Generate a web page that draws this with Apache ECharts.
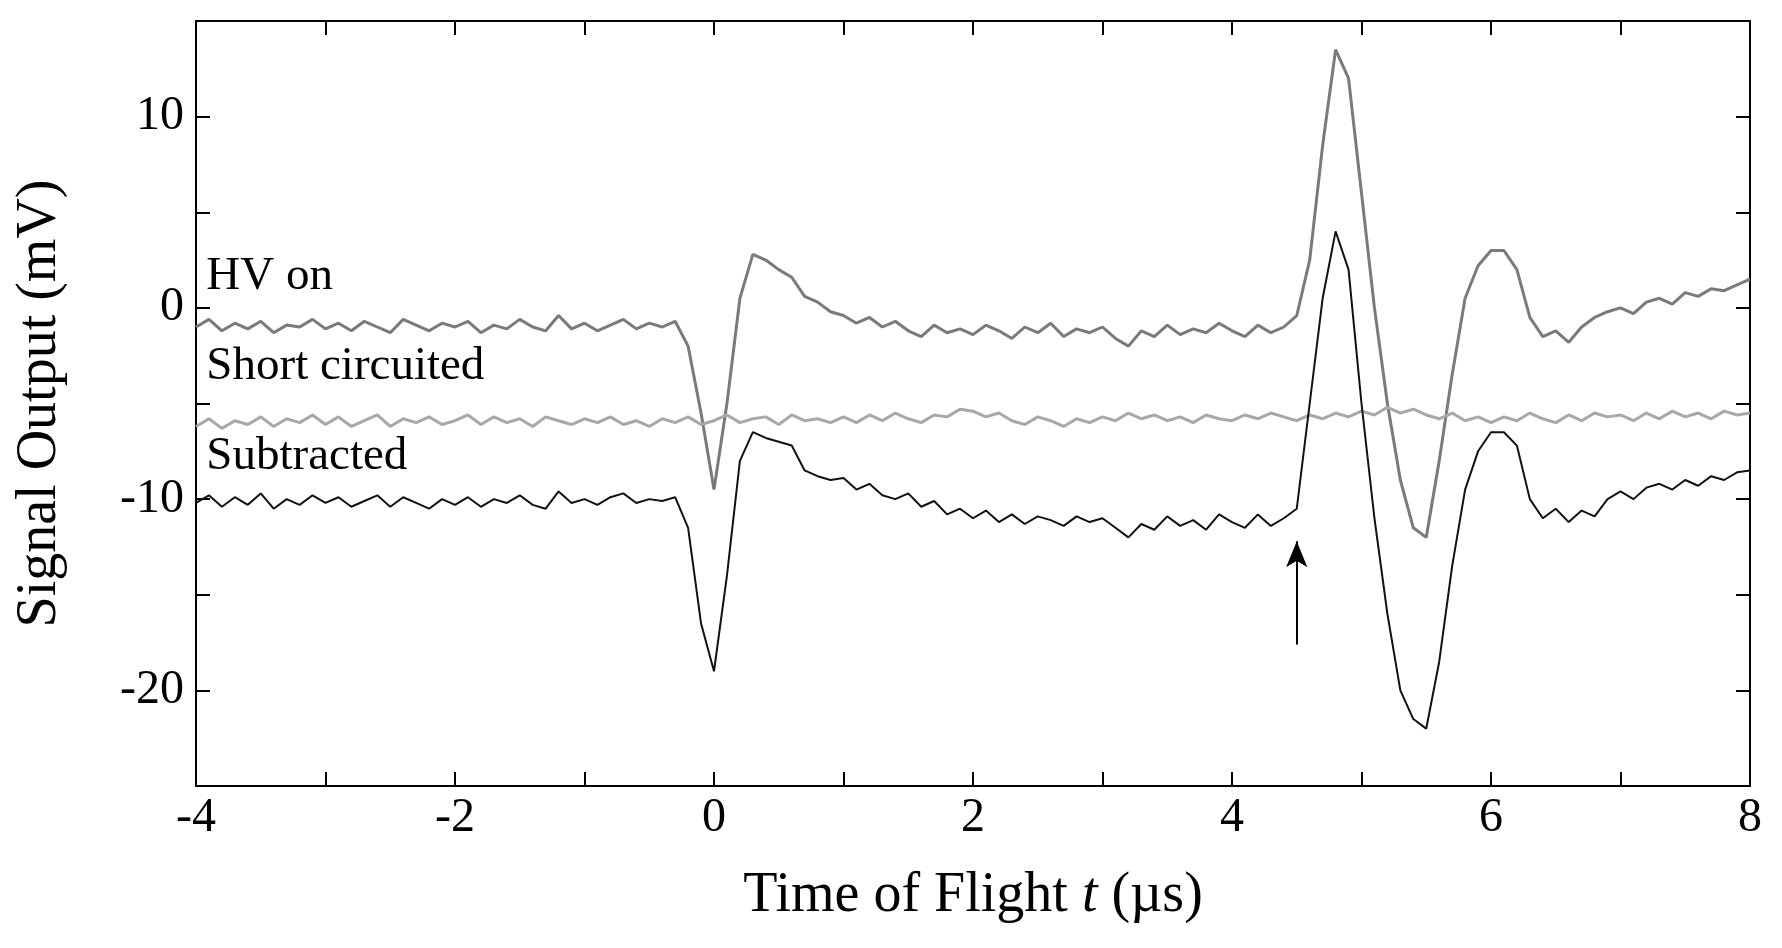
<!DOCTYPE html>
<html>
<head>
<meta charset="utf-8">
<script src="https://cdn.jsdelivr.net/npm/echarts@6/dist/echarts.min.js"></script>
<style>html,body{margin:0;padding:0;background:#fff}#c{width:1782px;height:948px}</style>
</head>
<body>
<div id="c"></div>
<script>
// time axis: -4 .. 8 us, step 0.1
var tStart = -4, tStep = 0.1;
var hvOn = [
  -1.0,-0.6,-1.2,-0.8,-1.1,-0.7,-1.3,-0.9,-1.0,-0.6,
  -1.1,-0.8,-1.2,-0.7,-1.0,-1.3,-0.6,-0.9,-1.2,-0.8,
  -1.0,-0.7,-1.3,-0.9,-1.1,-0.6,-1.0,-1.2,-0.4,-1.1,
  -0.8,-1.2,-0.9,-0.6,-1.1,-0.8,-1.0,-0.7,-2.0,-5.5,
  -9.5,-5.0,0.5,2.8,2.5,2.0,1.6,0.6,0.3,-0.2,
  -0.4,-0.8,-0.5,-1.0,-0.7,-1.2,-1.5,-0.9,-1.3,-1.1,
  -1.4,-0.9,-1.2,-1.6,-1.0,-1.3,-0.8,-1.5,-1.1,-1.3,
  -1.0,-1.6,-2.0,-1.2,-1.5,-0.9,-1.4,-1.1,-1.3,-0.8,
  -1.2,-1.5,-0.9,-1.3,-1.0,-0.4,2.5,8.5,13.5,12.0,
  6.0,0.0,-5.0,-9.0,-11.5,-12.0,-8.0,-3.5,0.5,2.2,
  3.0,3.0,2.0,-0.5,-1.5,-1.2,-1.8,-1.0,-0.5,-0.2,
  0.0,-0.3,0.3,0.5,0.2,0.8,0.6,1.0,0.9,1.2,
  1.5
];
var shortCircuited = [
  -6.2,-5.8,-6.3,-5.9,-6.1,-5.7,-6.2,-5.8,-6.0,-5.6,
  -6.1,-5.7,-6.2,-5.9,-5.6,-6.2,-5.8,-6.0,-5.7,-6.1,
  -5.9,-5.6,-6.1,-5.7,-6.0,-5.8,-6.2,-5.7,-5.9,-6.1,
  -5.8,-6.0,-5.7,-6.1,-5.9,-6.2,-5.8,-6.0,-5.7,-6.1,
  -5.9,-5.6,-6.0,-5.8,-5.7,-6.1,-5.6,-5.9,-5.8,-6.0,
  -5.7,-6.0,-5.6,-5.9,-5.5,-5.8,-6.0,-5.6,-5.7,-5.3,
  -5.4,-5.7,-5.5,-5.9,-6.1,-5.7,-5.9,-6.2,-5.8,-6.0,
  -5.7,-5.9,-5.5,-5.8,-5.6,-5.9,-5.7,-6.0,-5.6,-5.8,
  -5.9,-5.6,-5.8,-5.5,-5.7,-5.9,-5.6,-5.8,-5.5,-5.7,
  -5.4,-5.6,-5.2,-5.5,-5.3,-5.6,-5.8,-5.5,-5.9,-5.7,
  -6.0,-5.7,-5.9,-5.5,-5.8,-6.0,-5.6,-5.9,-5.5,-5.7,
  -5.6,-5.9,-5.5,-5.8,-5.4,-5.7,-5.5,-5.8,-5.4,-5.6,
  -5.5
];
var subtracted = [
  -10.2,-9.8,-10.4,-9.9,-10.3,-9.7,-10.5,-10.0,-10.3,-9.8,
  -10.2,-9.9,-10.4,-10.1,-9.8,-10.4,-9.9,-10.2,-10.5,-10.0,
  -10.3,-9.9,-10.4,-10.0,-10.2,-9.8,-10.3,-10.5,-9.6,-10.2,
  -10.0,-10.3,-9.9,-9.7,-10.2,-10.0,-10.1,-9.9,-11.5,-16.5,
  -19.0,-14.0,-8.0,-6.5,-6.8,-7.0,-7.2,-8.5,-8.8,-9.0,
  -8.9,-9.5,-9.2,-9.8,-10.0,-9.7,-10.4,-10.1,-10.8,-10.5,
  -11.0,-10.6,-11.2,-10.8,-11.3,-10.9,-11.1,-11.4,-10.9,-11.2,
  -11.0,-11.5,-12.0,-11.3,-11.6,-10.9,-11.4,-11.1,-11.6,-10.8,
  -11.2,-11.5,-10.8,-11.4,-11.0,-10.5,-5.0,0.5,4.0,2.0,
  -5.0,-11.0,-16.0,-20.0,-21.5,-22.0,-18.5,-13.5,-9.5,-7.5,
  -6.5,-6.5,-7.2,-10.0,-11.0,-10.5,-11.2,-10.6,-10.9,-10.0,
  -9.6,-10.0,-9.4,-9.2,-9.5,-9.0,-9.3,-8.8,-9.0,-8.6,
  -8.5
];
var seriesNames = ['HV on', 'Short circuited', 'Subtracted'];
var labelPos = [[-3.92, 0.4], [-3.92, -4.3], [-3.92, -9.0]];
var arrowX = 4.5, arrowFrom = -17.6, arrowTo = -12.2;

function pairs(arr) {
  return arr.map(function (v, i) { return [+(tStart + i * tStep).toFixed(2), v]; });
}

var chart = echarts.init(document.getElementById('c'));
var font = 'Liberation Serif';
var axisLine = { show: true, onZero: false, lineStyle: { color: '#000', width: 2 } };
var tick = { show: true, inside: true, length: 14, lineStyle: { color: '#000', width: 2 } };

var option = {
  animation: false,
  grid: { left: 196, right: 32, top: 21, bottom: 162 },
  xAxis: [{
    type: 'value', min: -4, max: 8, interval: 1,
    axisLine: axisLine, axisTick: tick, splitLine: { show: false },
    axisLabel: {
      color: '#000', fontFamily: font, fontSize: 48, margin: 8,
      formatter: function (v) { return v % 2 === 0 ? String(v) : ''; }
    },
    name: 'Time of Flight {i|t} (\u00b5s)', nameLocation: 'middle', nameGap: 82,
    nameTextStyle: { color: '#000', fontFamily: font, fontSize: 56, rich: { i: { fontStyle: 'italic', fontFamily: font, fontSize: 56 } } }
  }, {
    type: 'value', min: -4, max: 8, interval: 1, position: 'top',
    axisLine: axisLine, axisTick: tick, axisLabel: { show: false }, splitLine: { show: false }
  }],
  yAxis: [{
    type: 'value', min: -25, max: 15, interval: 5,
    axisLine: axisLine, axisTick: tick, splitLine: { show: false },
    axisLabel: {
      color: '#000', fontFamily: font, fontSize: 48, margin: 12,
      formatter: function (v) { return v % 10 === 0 ? String(v) : ''; }
    },
    name: 'Signal Output (mV)', nameLocation: 'middle', nameGap: 128,
    nameTextStyle: { color: '#000', fontFamily: font, fontSize: 56 }
  }, {
    type: 'value', min: -25, max: 15, interval: 5, position: 'right',
    axisLine: axisLine, axisTick: tick, axisLabel: { show: false }, splitLine: { show: false }
  }],
  series: [{
    name: seriesNames[0], type: 'line', data: pairs(hvOn), showSymbol: false,
    lineStyle: { color: '#7a7a7a', width: 3 }
  }, {
    name: seriesNames[1], type: 'line', data: pairs(shortCircuited), showSymbol: false,
    lineStyle: { color: '#a8a8a8', width: 3 }
  }, {
    name: seriesNames[2], type: 'line', data: pairs(subtracted), showSymbol: false,
    lineStyle: { color: '#111', width: 2 },
    markLine: {
      silent: true, symbol: ['none', 'arrow'], symbolSize: [16, 26], label: { show: false },
      lineStyle: { color: '#000', width: 2, type: 'solid' },
      data: [[{ coord: [arrowX, arrowFrom] }, { coord: [arrowX, arrowTo] }]]
    }
  }]
};
chart.setOption(option);

// series labels placed in data coordinates
chart.setOption({
  graphic: seriesNames.map(function (n, i) {
    var p = chart.convertToPixel({ gridIndex: 0 }, labelPos[i]);
    return {
      type: 'text', x: p[0], y: p[1],
      style: { text: n, fill: '#000', font: '47px "Liberation Serif"', textVerticalAlign: 'bottom' }
    };
  })
});
</script>
</body>
</html>
